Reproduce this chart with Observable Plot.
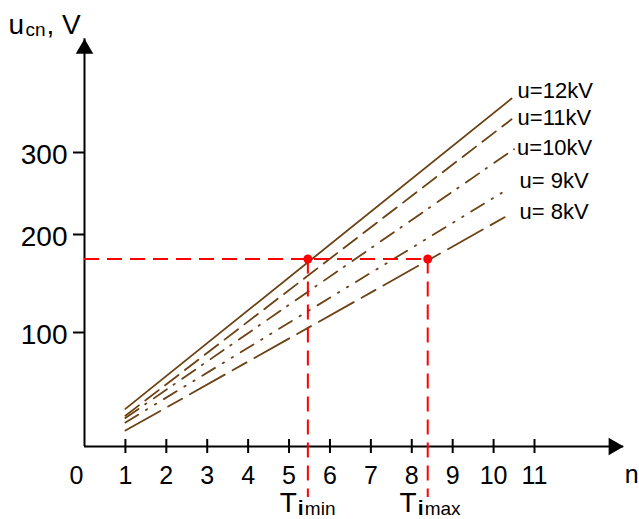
<!DOCTYPE html>
<html><head><meta charset="utf-8">
<script src="https://cdn.jsdelivr.net/npm/d3@7"></script>
<script src="https://cdn.jsdelivr.net/npm/@observablehq/plot@0.6"></script>
<style>html,body{margin:0;padding:0;background:#fff;overflow:hidden}</style>
</head><body><div id="chart"></div>
<script>
// ---- data ----
const seriesLabels = ["u=12kV", "u=11kV", "u=10kV", "u= 9kV", "u= 8kV"];
const nStart = [1, 1, 1, 1, 1];
const nEnd = [10.44, 10.44, 10.5, 10.34, 10.34];
const uStart = [33, 27, 25, 21, 14];
const uEnd = [365, 340, 304, 255, 223];
const xTicks = [1, 2, 3, 4, 5, 6, 7, 8, 9, 10, 11];
const yTicks = [100, 200, 300];
const uThreshold = 175;
const tPoints = [5.46, 8.39];
const tNames = ["min", "max"];
const xAxisEnd = 13.18;
const yAxisEnd = 437;

// ---- table ----
const rows = [];
seriesLabels.forEach((s, i) => {
  rows.push({series: s, n: nStart[i], u: uStart[i]});
  rows.push({series: s, n: nEnd[i], u: uEnd[i]});
});
const ends = seriesLabels.map((s, i) => ({series: s, n: nEnd[i], u: uEnd[i]}));

const brown = "#6b4214";
const red = "#ff0000";
const font = "Liberation Sans, Arial, Helvetica, sans-serif";
const dashes = [null, "17,8", "16,8,1.5,9", "15,9,1.5,9,1.5,9", "40,9,16,9"];
const labelOffsets = [[6, -1], [6, 6], [3, 6], [12, -1], [12, 3]];

const marks = [];
// axes lines
marks.push(Plot.ruleY([0], {y: 0, x1: 0, x2: xAxisEnd, stroke: "#000", strokeWidth: 2}));
marks.push(Plot.ruleX([0], {x: 0, y1: yAxisEnd, y2: 0, stroke: "#000", strokeWidth: 2}));
// arrow heads
marks.push(Plot.dot([0], {x: 0, y: yAxisEnd, symbol: "triangle", r: 6.5, fill: "#000", stroke: "none", dy: 10}));
marks.push(Plot.dot([0], {x: xAxisEnd, y: 0, symbol: "triangle", r: 6.5, fill: "#000", stroke: "none", rotate: 90, dx: -10}));
// ticks
marks.push(Plot.ruleX(xTicks, {x: d => d, y1: 0, y2: 0, insetTop: 7, insetBottom: 7, stroke: "#000", strokeWidth: 2}));
marks.push(Plot.ruleY(yTicks, {y: d => d, x1: 0, x2: 0, insetLeft: -11, stroke: "#000", strokeWidth: 2}));
// tick labels
marks.push(Plot.text(xTicks, {x: d => d, y: 0, text: d => String(d), dy: 37, lineAnchor: "bottom", textAnchor: "middle", fontSize: 25, fontFamily: font, fill: "#000"}));
marks.push(Plot.text([0], {x: 0, y: 0, text: () => "0", dx: -8, dy: 37, lineAnchor: "bottom", textAnchor: "middle", fontSize: 25, fontFamily: font, fill: "#000"}));
marks.push(Plot.text(yTicks, {x: 0, y: d => d, text: d => String(d), dx: -17, dy: 11, lineAnchor: "bottom", textAnchor: "end", fontSize: 28, fontFamily: font, fill: "#000"}));
// axis titles
marks.push(Plot.text(["u"], {text: d => d, frameAnchor: "top-left", dx: 8, dy: 33, lineAnchor: "bottom", textAnchor: "start", fontSize: 28, fontFamily: font, fill: "#000"}));
marks.push(Plot.text(["cn"], {text: d => d, frameAnchor: "top-left", dx: 25, dy: 35, lineAnchor: "bottom", textAnchor: "start", fontSize: 19, fontFamily: font, fill: "#000"}));
marks.push(Plot.text([", V"], {text: d => d, frameAnchor: "top-left", dx: 46, dy: 33, lineAnchor: "bottom", textAnchor: "start", fontSize: 28, fontFamily: font, fill: "#000"}));
marks.push(Plot.text(["n"], {x: xAxisEnd, y: 0, text: d => d, dx: 1, dy: 36, lineAnchor: "bottom", textAnchor: "start", fontSize: 25, fontFamily: font, fill: "#000"}));
// series lines
seriesLabels.forEach((s, i) => {
  const opts = {x: "n", y: "u", stroke: brown, strokeWidth: 1.8};
  if (dashes[i]) opts.strokeDasharray = dashes[i];
  marks.push(Plot.line(rows.filter(d => d.series === s), opts));
  marks.push(Plot.text([ends[i]], {x: "n", y: "u", text: "series", dx: labelOffsets[i][0], dy: labelOffsets[i][1], lineAnchor: "bottom", textAnchor: "start", fontSize: 22, fontFamily: font, fill: "#000"}));
});
// red threshold lines
marks.push(Plot.ruleY([uThreshold], {y: d => d, x1: 0, x2: tPoints[1], stroke: red, strokeWidth: 2, strokeDasharray: "15,8"}));
marks.push(Plot.ruleX(tPoints, {x: d => d, y1: uThreshold, y2: 0, insetBottom: -51, stroke: red, strokeWidth: 2, strokeDasharray: "15,8"}));
marks.push(Plot.dot(tPoints, {x: d => d, y: uThreshold, r: 4.5, fill: red, stroke: "none"}));
// T labels
marks.push(Plot.text(tPoints, {x: d => d, y: 0, text: () => "T", dx: -11, dy: 65, lineAnchor: "bottom", textAnchor: "end", fontSize: 28, fontFamily: font, fill: "#000"}));
marks.push(Plot.text(tPoints, {x: d => d, y: 0, text: () => "i", dx: -10, dy: 68, lineAnchor: "bottom", textAnchor: "start", fontSize: 21, fontWeight: "bold", fontFamily: font, fill: "#000"}));
marks.push(Plot.text(tPoints, {x: d => d, y: 0, text: (d, i) => tNames[i], dx: -3, dy: 68, lineAnchor: "bottom", textAnchor: "start", fontSize: 19, fontFamily: font, fill: "#000"}));

const chart = Plot.plot({
  width: 639,
  height: 519,
  margin: 0,
  style: {background: "#fff", fontFamily: font, overflow: "visible"},
  x: {type: "linear", domain: [0, 11], range: [84, 534], axis: null},
  y: {type: "linear", domain: [0, 100, 200, 300, 450], range: [446, 332, 234, 152, 27.5], axis: null},
  marks
});
document.getElementById("chart").appendChild(chart);
</script>
</body></html>
